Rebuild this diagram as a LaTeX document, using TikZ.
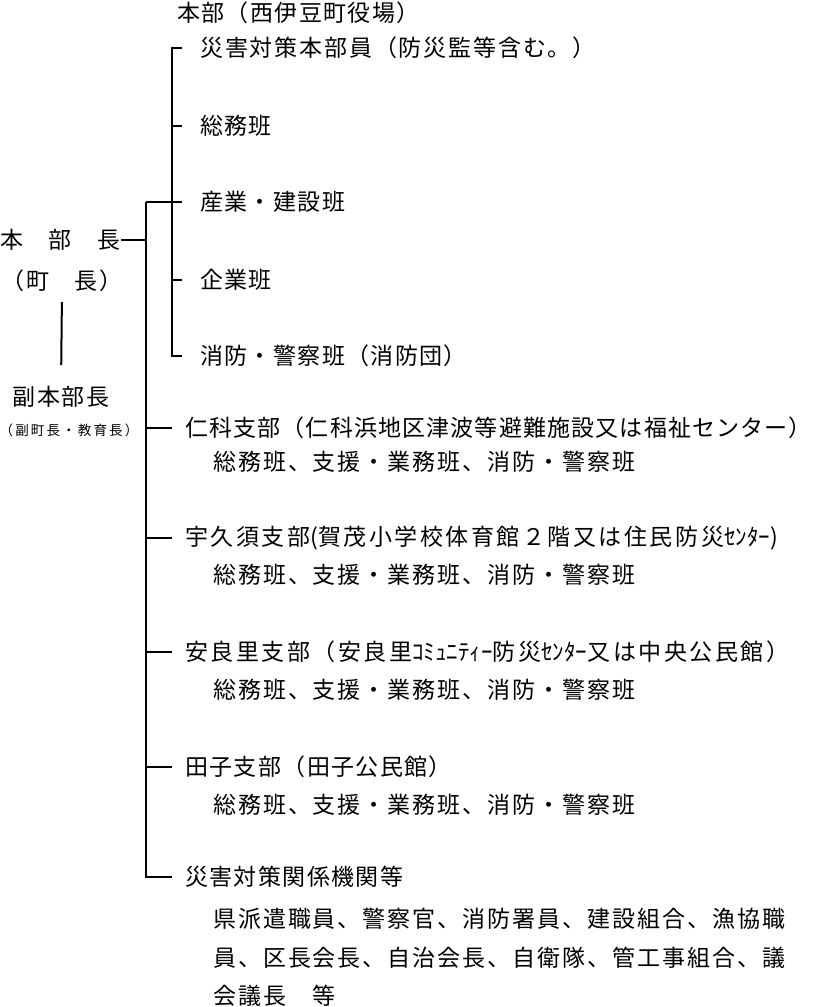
\documentclass[tikz,border=0pt]{standalone}
\usepackage{fontspec}
\setmainfont{Noto Sans CJK JP}[LetterSpace=6]
\newfontfamily\halfwidth{Noto Sans CJK JP}[LetterSpace=0]
\newcommand{\hw}[1]{{\halfwidth #1}}

\tikzset{
  org/.style={font=\fontsize{23pt}{38.5pt}\selectfont, inner sep=0pt, anchor=west},
  sub/.style={org, font=\fontsize{23pt}{38.5pt}\selectfont\addfontfeature{LetterSpace=8.5}},
  wide/.style={org, font=\fontsize{23pt}{38.5pt}\selectfont\addfontfeature{LetterSpace=11}},
  note/.style={font=\fontsize{13.5pt}{13.5pt}\selectfont\addfontfeature{LetterSpace=16}, inner sep=0pt},
  link/.style={line width=2pt},
}

\begin{document}
\begin{tikzpicture}[x=1pt,y=-1pt]
   \useasboundingbox (0,0) rectangle (812,1007);
   \coordinate (spine-in) at (172,0);
   \coordinate (spine-out) at (146,0);
   % head office
   \node[org] (honbu) at (177,13) {本部（西伊豆町役場）};
   \node[org] (taisaku) at (200,48) {\addfontfeature{LetterSpace=8}災害対策本部員（防災監等含む。）};
   \node[org] (somu) at (200,126) {総務班};
   \node[org] (sangyo) at (200,202) {産業・建設班};
   \node[org] (kigyo) at (200,280) {企業班};
   \node[org] (shobo) at (200,356) {消防・警察班（消防団）};
   % chief and deputy
   \node[org] (chief) at (0,240) {本　部　長};
   \node[org, anchor=center] (mayor) at (62,281) {（町　長）};
   \node[org, anchor=center] (deputy) at (61,397) {副本部長};
   \node[note] (deputy-note) at (69,430) {（副町長・教育長）};
   % branches
   \node[org] (nishina) at (185,428) {\addfontfeature{LetterSpace=5}仁科支部（仁科浜地区津波等避難施設又は福祉センター）};
   \node[sub] (nishina-sub) at (213,462) {総務班、支援・業務班、消防・警察班};
   \node[wide] (ugusu) at (185,538) {宇久須支部\hw{(}賀茂小学校体育館２階又は住民防災\hw{ｾﾝﾀｰ)}};
   \node[sub] (ugusu-sub) at (213,575) {総務班、支援・業務班、消防・警察班};
   \node[wide] (arari) at (185,652) {安良里支部（安良里\hw{ｺﾐｭﾆﾃｨｰ}防災\hw{ｾﾝﾀｰ}又は中央公民館）};
   \node[sub] (arari-sub) at (213,690) {総務班、支援・業務班、消防・警察班};
   \node[org] (tago) at (185,767) {田子支部（田子公民館）};
   \node[sub] (tago-sub) at (213,805) {総務班、支援・業務班、消防・警察班};
   \node[org] (kikan) at (185,877) {災害対策関係機関等};
   \node[sub, anchor=north west, align=left] (kikan-list) at (213,908) {県派遣職員、警察官、消防署員、建設組合、漁協職\\員、区長会長、自治会長、自衛隊、管工事組合、議\\会議長　等};
   % lines
   \draw[link] ([xshift=-18pt]taisaku.west) -- (taisaku.west -| spine-in) -- (shobo.west -| spine-in) -- ([xshift=-18pt]shobo.west);
   \foreach \u in {somu,kigyo}
      \draw[link] (\u.west -| spine-in) -- ([xshift=-18pt]\u.west);
   \draw[link] (sangyo.west -| spine-out) -- ([xshift=-18pt]sangyo.west);
   \draw[link] (sangyo.west -| spine-out) -- (kikan.west -| spine-out) -- ([xshift=-13pt]kikan.west);
   \foreach \b in {nishina,ugusu,arari,tago}
      \draw[link] (\b.west -| spine-out) -- ([xshift=-13pt]\b.west);
   \draw[link] (chief.east) -- (chief.east -| spine-out);
   \draw[link, shorten <=10pt, shorten >=21pt] (mayor.south) -- (deputy.north);
\end{tikzpicture}
\end{document}
